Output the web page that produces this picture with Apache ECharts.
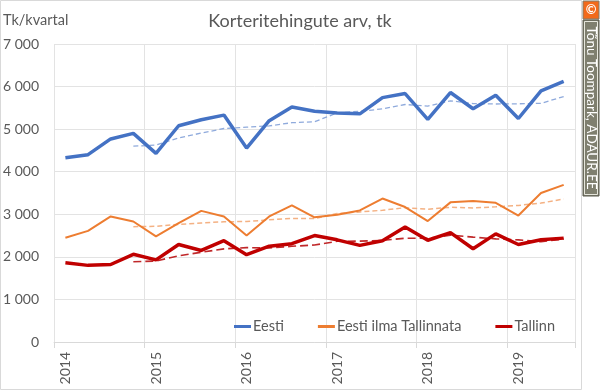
<!DOCTYPE html>
<html><head><meta charset="utf-8">
<script src="https://cdn.jsdelivr.net/npm/echarts@6/dist/echarts.min.js"></script>
<style>html,body{margin:0;padding:0;background:#fff}#c{width:600px;height:392px}</style>
</head><body><div id="c"></div>
<script>
const quarters = ['2014 Q1','2014 Q2','2014 Q3','2014 Q4','2015 Q1','2015 Q2','2015 Q3','2015 Q4','2016 Q1','2016 Q2','2016 Q3','2016 Q4','2017 Q1','2017 Q2','2017 Q3','2017 Q4','2018 Q1','2018 Q2','2018 Q3','2018 Q4','2019 Q1','2019 Q2','2019 Q3'];
const eesti = [4330,4400,4770,4900,4430,5080,5220,5330,4555,5200,5520,5420,5380,5360,5740,5835,5230,5860,5480,5795,5250,5900,6120];
const eestiIlmaTallinnata = [2450,2610,2950,2830,2480,2790,3080,2950,2500,2950,3210,2930,2990,3090,3370,3170,2840,3280,3310,3270,2970,3500,3690];
const tallinn = [1860,1800,1820,2060,1930,2290,2150,2380,2050,2250,2310,2500,2400,2270,2380,2700,2390,2570,2190,2540,2290,2400,2440];
const eestiTrend = [null,null,null,4600,4625,4795,4907,5015,5046,5076,5151,5174,5380,5420,5475,5579,5541,5666,5601,5591,5596,5606,5766];
const eestiIlmaTallinnataTrend = [null,null,null,2710,2718,2763,2795,2825,2830,2870,2903,2898,3020,3055,3095,3155,3118,3165,3150,3175,3208,3263,3358];
const tallinnTrend = [null,null,null,1885,1903,2025,2108,2188,2218,2208,2248,2278,2365,2370,2388,2438,2435,2510,2463,2423,2398,2355,2418];
const yTicks = [0,1000,2000,3000,4000,5000,6000,7000];

const FONT = 'Lato';
const TXT = '#595959';
const chart = echarts.init(document.getElementById('c'), null, {renderer:'canvas'});
chart.setOption({
  animation:false,
  textStyle:{fontFamily:FONT},
  title:{text:'Korteritehingute arv, tk', left:'center', top:7, textStyle:{fontFamily:FONT, fontSize:18, fontWeight:'normal', color:TXT}},
  graphic:[
    {type:'rect', shape:{x:0.5,y:0.5,width:581,height:389}, style:{fill:'none', stroke:'#d9d9d9', lineWidth:1}, silent:true},
    {type:'text', left:3, top:13, style:{text:'Tk/kvartal', font:'14.5px '+FONT, fill:TXT}},
    {type:'rect', shape:{x:583,y:1,width:16,height:18}, style:{fill:'#f26a1b', stroke:'#7f7f6f', lineWidth:1}},
    {type:'text', x:591, y:10, style:{text:'©', font:'bold 13px '+FONT, fill:'#fff', align:'center', verticalAlign:'middle'}},
    {type:'rect', shape:{x:583,y:20,width:16,height:176}, style:{fill:'#7f7f6f', stroke:'#5a5a4e', lineWidth:1}},
    {type:'rect', shape:{x:584.5,y:21.5,width:13,height:173}, style:{fill:'none', stroke:'#e6e6dc', lineWidth:1}},
    {type:'text', x:591, y:108, rotation:-Math.PI/2, style:{text:'Tõnu Toompark, ADAUR.EE', font:'13.5px '+FONT, fill:'#fff', align:'center', verticalAlign:'middle'}}
  ],
  legend:{
    left:229, top:314, itemWidth:17, itemHeight:3, itemGap:34,
    textStyle:{fontFamily:FONT, fontSize:14.5, color:TXT, padding:[0,0,0,-3]},
    data:[{name:'Eesti', icon:'rect'},{name:'Eesti ilma Tallinnata', icon:'rect'},{name:'Tallinn', icon:'rect'}]
  },
  grid:{left:53, right:25, top:44, bottom:50},
  xAxis:{
    type:'category', data:quarters, boundaryGap:true,
    axisLine:{show:true, lineStyle:{color:'#d9d9d9'}},
    axisTick:{show:true, interval:3, length:6, lineStyle:{color:'#d9d9d9'}},
    splitLine:{show:true, interval:3, lineStyle:{color:'#e3e3e3', width:1}},
    axisLabel:{interval:3, rotate:90, margin:10, fontFamily:FONT, fontSize:14, color:TXT, formatter:v=>v.slice(0,4)}
  },
  yAxis:{
    type:'value', min:yTicks[0], max:yTicks[yTicks.length-1], interval:1000,
    axisLine:{show:false}, axisTick:{show:false},
    splitLine:{lineStyle:{color:'#e3e3e3', width:1}},
    axisLabel:{margin:15, fontFamily:FONT, fontSize:14, color:TXT, formatter:v=>String(v).replace(/\B(?=(\d{3})+(?!\d))/g,' ')}
  },
  series:[
    {name:'Eesti trend', type:'line', data:eestiTrend, symbol:'none', z:1, lineStyle:{color:'#8faadc', width:1.3, type:[5,3]}},
    {name:'Eesti ilma Tallinnata trend', type:'line', data:eestiIlmaTallinnataTrend, symbol:'none', z:1, lineStyle:{color:'#f4b183', width:1.5, type:[5,3]}},
    {name:'Tallinn trend', type:'line', data:tallinnTrend, symbol:'none', z:1, lineStyle:{color:'#c0282a', width:1.6, type:[8,4]}},
    {name:'Eesti', type:'line', data:eesti, symbol:'none', z:3, itemStyle:{color:'#4472c4'}, lineStyle:{color:'#4472c4', width:3.5}},
    {name:'Eesti ilma Tallinnata', type:'line', data:eestiIlmaTallinnata, symbol:'none', z:3, itemStyle:{color:'#ed7d31'}, lineStyle:{color:'#ed7d31', width:2}},
    {name:'Tallinn', type:'line', data:tallinn, symbol:'none', z:3, itemStyle:{color:'#c00000'}, lineStyle:{color:'#c00000', width:3.5}}
  ]
});
</script></body></html>
